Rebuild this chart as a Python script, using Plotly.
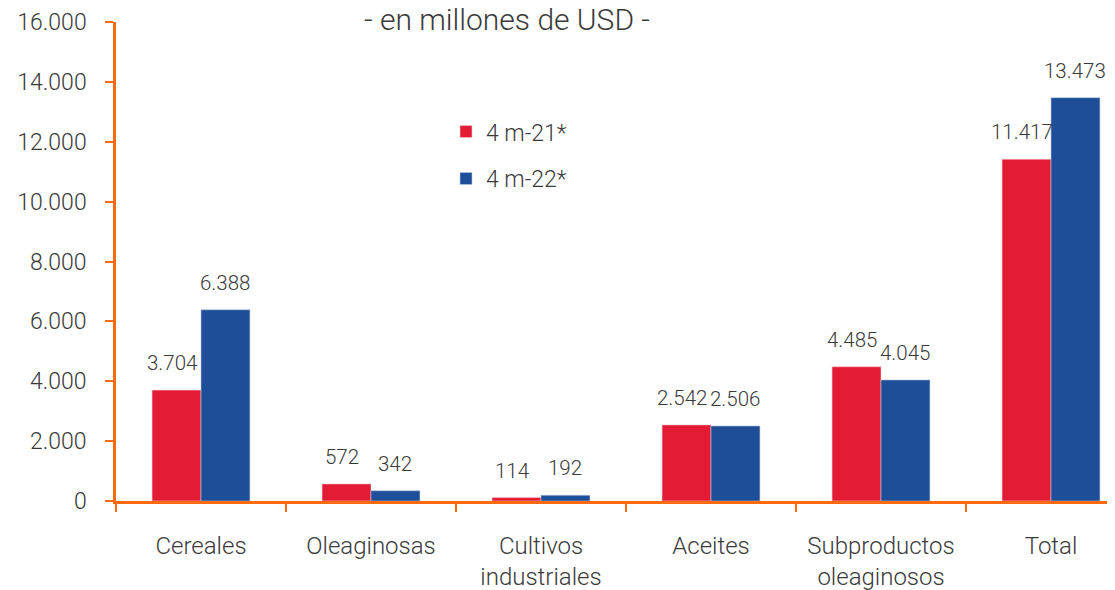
import plotly.graph_objects as go

categories = ["Cereales", "Oleaginosas", "Cultivos<br>industriales", "Aceites",
              "Subproductos<br>oleaginosos", "Total"]
series_names = ["4 m-21*", "4 m-22*"]
values_21 = [3704, 572, 114, 2542, 4485, 11417]
values_22 = [6388, 342, 192, 2506, 4045, 13473]
y_ticks = [0, 2000, 4000, 6000, 8000, 10000, 12000, 14000, 16000]

RED = "#E31B35"
BLUE = "#1F4E98"
ORANGE = "#FA6A0E"
TXT = "#3a3a3a"
FONT = "Roboto"

# page body has an 8px margin, so the figure is shifted by 8px;
# size the figure so it ends exactly at the window edges.
FIG_W, FIG_H = 1107, 582
PLOT_W = FIG_W - 108

def fmt(v):
    return f"{v:,}".replace(",", ".")

fig = go.Figure()
fig.add_trace(go.Bar(x=categories, y=values_21, name=series_names[0],
                     marker=dict(color=RED, line=dict(color="#f3c9cf", width=0.6)),
                     legendgroup="a"))
fig.add_trace(go.Bar(x=categories, y=values_22, name=series_names[1],
                     marker=dict(color=BLUE, line=dict(color="#b9c8e3", width=0.6)),
                     legendgroup="b"))

annotations = []
for cat, v1, v2 in zip(categories, values_21, values_22):
    for v, sh in ((v1, -29), (v2, 24)):
        annotations.append(dict(x=cat, y=v, xref="x", yref="y", text=fmt(v),
                                showarrow=False, xshift=sh, yshift=27,
                                yanchor="middle",
                                font=dict(family=FONT, size=20.5, color=TXT, weight=300)))

annotations.append(dict(x=(507 - 116) / PLOT_W, y=1 + (22 - 19) / 479,
                        xref="paper", yref="paper",
                        text="- en millones de USD -", showarrow=False,
                        xanchor="center", yanchor="middle",
                        font=dict(family=FONT, size=30, color=TXT, weight=300)))

fig.update_layout(
    width=FIG_W, height=FIG_H,
    margin=dict(l=108, r=0, t=14, b=89, autoexpand=False),
    paper_bgcolor="white", plot_bgcolor="white",
    barmode="group", bargap=0.424, bargroupgap=0,
    separators=",.",
    font=dict(family=FONT, size=23, color=TXT, weight=300),
    showlegend=True,
    legend=dict(x=(461 - 116 - 15) / PLOT_W, y=0.816, xanchor="left", yanchor="top",
                bgcolor="rgba(0,0,0,0)", tracegroupgap=14,
                font=dict(family=FONT, size=23, color=TXT, weight=300)),
    annotations=annotations,
)
fig.update_xaxes(
    range=[-0.5, -0.5 + PLOT_W / 170], showgrid=False, showline=True,
    linecolor=ORANGE, linewidth=2.5, ticks="outside", tickson="boundaries",
    ticklen=8, tickwidth=2, tickcolor=ORANGE, ticklabelstandoff=21,
    tickfont=dict(family=FONT, size=24, color=TXT, weight=300),
    automargin=False, fixedrange=True,
)
fig.update_yaxes(
    range=[0, 16000], tickvals=y_ticks, tickformat=",d", showgrid=False,
    zeroline=False, showline=True, linecolor=ORANGE, linewidth=2.5,
    ticks="outside", ticklen=8, tickwidth=2, tickcolor=ORANGE,
    ticklabelstandoff=14, automargin=False,
)

fig.write_html("out.html")
